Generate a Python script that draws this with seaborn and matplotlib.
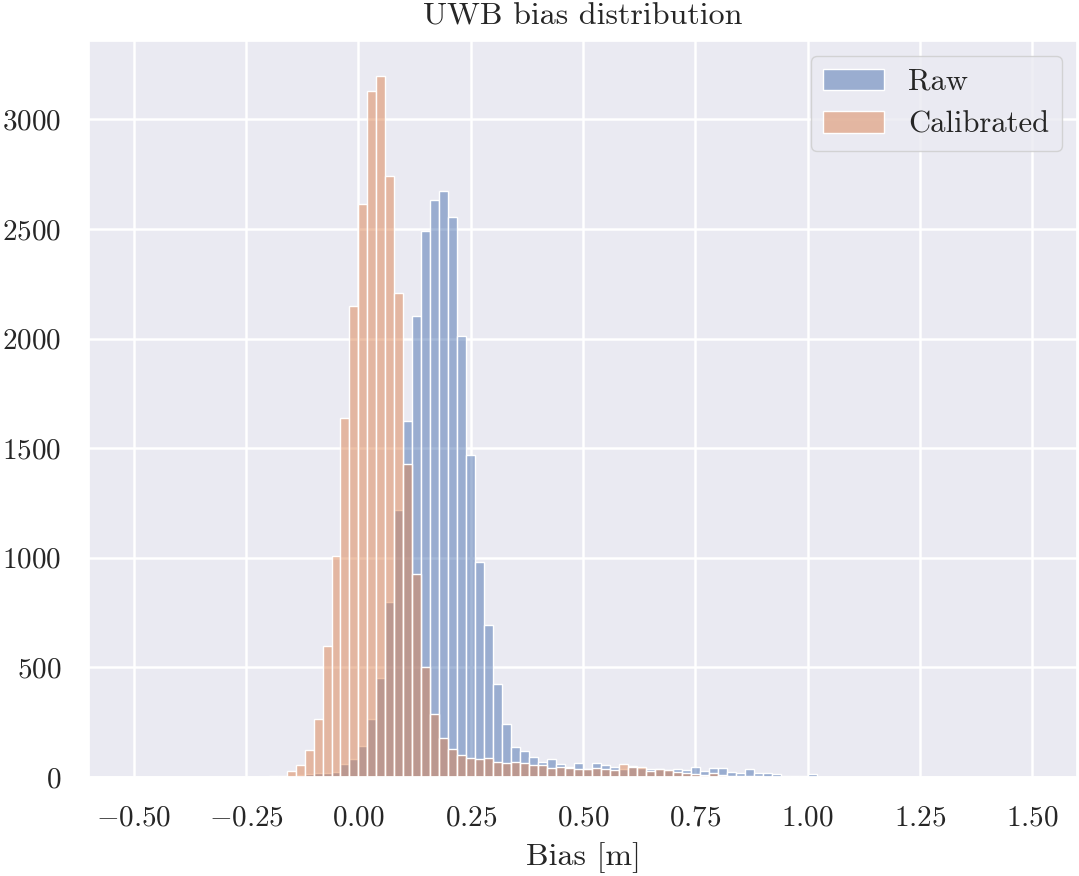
import numpy as np
import pandas as pd
import matplotlib
matplotlib.use("Agg")
import matplotlib.pyplot as plt
import seaborn as sns

# --------------------------
# DATA (counts per 0.02 m bin)
# --------------------------
# left edges of the occupied bins, -0.24 ... 1.02
bin_left = np.round(np.arange(-0.24, 1.03, 0.02), 2)
bin_centers = bin_left + 0.01

raw_counts = [
    0, 0, 1, 2, 4, 8, 15, 16, 19, 25, 60, 82,
    143, 266, 453, 799, 1219, 1623, 2104, 2491, 2632, 2673, 2556, 2014,
    1468, 979, 692, 426, 240, 139, 117, 89, 67, 80, 58, 47,
    65, 36, 62, 53, 47, 38, 50, 42, 36, 35, 34, 36,
    33, 47, 29, 41, 41, 21, 20, 35, 18, 17, 12, 5,
    3, 6, 14, 2,
]
calibrated_counts = [
    1, 2, 3, 5, 28, 55, 125, 266, 599, 1009, 1638, 2147,
    2615, 3130, 3198, 2742, 2208, 1430, 924, 500, 287, 178, 129, 99,
    87, 81, 88, 69, 64, 68, 62, 55, 55, 39, 44, 39,
    36, 36, 42, 36, 33, 58, 47, 44, 29, 35, 32, 21,
    17, 14, 11, 17, 11, 6, 5, 4, 3, 2, 2, 1,
    1, 1, 1, 0,
]

df = pd.DataFrame({
    "bias": np.concatenate([bin_centers, bin_centers]),
    "count": raw_counts + calibrated_counts,
    "source": ["Raw"] * len(raw_counts) + ["Calibrated"] * len(calibrated_counts),
})

# --------------------------
# STYLE
# --------------------------
sns.set_theme(style="darkgrid", rc={"grid.linewidth": 1.8})
plt.rcParams["font.family"] = "serif"
plt.rcParams["font.serif"] = ["cmr10", "DejaVu Serif"]
plt.rcParams["mathtext.fontset"] = "cm"
plt.rcParams["axes.formatter.use_mathtext"] = True
plt.rcParams["axes.unicode_minus"] = True
plt.rcParams["font.size"] = 21

# --------------------------
# PLOT
# --------------------------
fig = plt.figure(figsize=(10.79, 8.76), dpi=100)
ax = fig.add_axes([89 / 1079, 1 - 777 / 876, 988 / 1079, 736 / 876])

palette = sns.color_palette("deep")
for name, color in [("Raw", palette[0]), ("Calibrated", palette[1])]:
    sub = df[df["source"] == name]
    sns.histplot(data=sub, x="bias", weights="count", bins=100,
                 binrange=(-0.5, 1.5), color=color, alpha=0.5,
                 edgecolor="white", linewidth=1, label=name, ax=ax)

ax.set_title("UWB bias distribution", fontsize=23, pad=12)
ax.set_xlabel("Bias [m]", fontsize=23, labelpad=8)
ax.set_ylabel("")
ax.tick_params(axis="both", labelsize=21, length=0, pad=20)
ax.legend(loc="upper right", fontsize=22)

fig.savefig("out.png", dpi=100)
